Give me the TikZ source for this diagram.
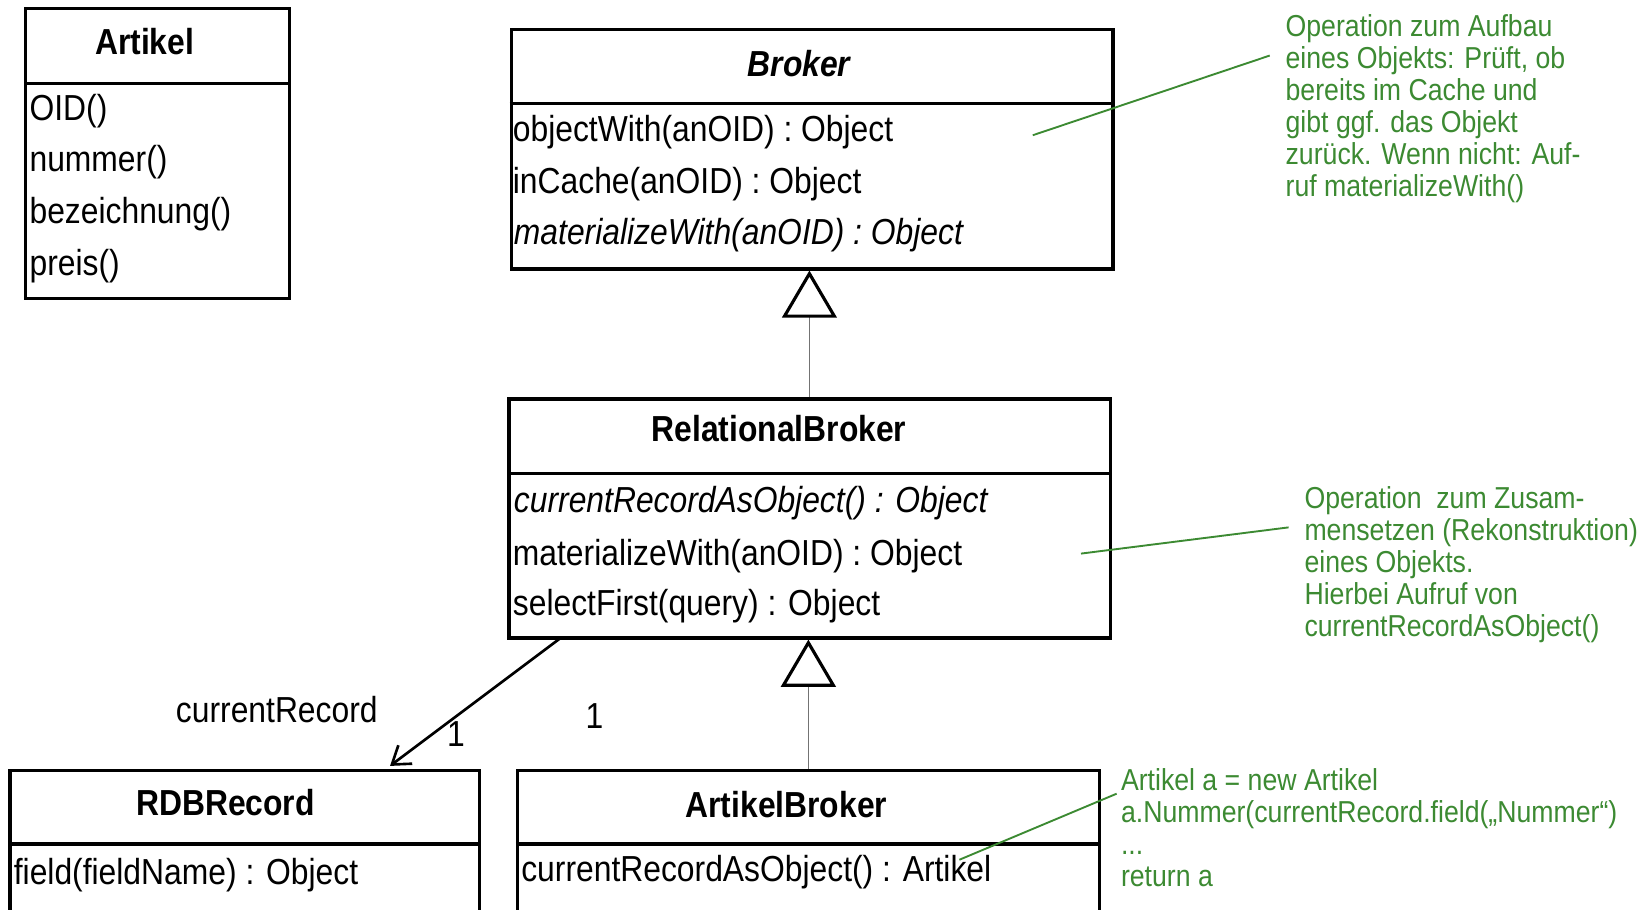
\documentclass[tikz,border=0pt]{standalone}
\usepackage{fontspec}
\setmainfont{Liberation Sans}[FakeStretch=0.88]
\usetikzlibrary{arrows.meta}
\definecolor{notegreen}{RGB}{60,138,50}
\tikzset{
  x=1pt, y=-1pt,
  box/.style={draw=black, line width=3pt, inner sep=0pt, anchor=north west},
  sepline/.style={draw=black, line width=3pt},
  title/.style={anchor=base, inner sep=0pt, font=\fontsize{34.5}{40}\selectfont\bfseries},
  item/.style={anchor=base west, inner sep=0pt, font=\fontsize{34.5}{40}\selectfont},
  gen/.style={draw=black!55, line width=1.2pt,
    -{Triangle[length=45pt,width=52pt,color=black,fill=white,line width=3pt]}},
  assoc/.style={draw=black, line width=2.5pt, line cap=round,
    -{Straight Barb[length=16pt,width=22pt,line width=2.5pt]}},
  note/.style={anchor=north west, inner sep=0pt, align=left, text=notegreen,
    font=\fontsize{28.9}{30.5}\selectfont},
  noteline/.style={draw=notegreen, line width=1.8pt},
}
\begin{document}
\begin{tikzpicture}
\useasboundingbox (0,0) rectangle (1568,867);
\clip (0,0) rectangle (1568,867);

% Artikel
\node[box, minimum width=252pt, minimum height=276pt] (artikel) at (23,7) {};
\draw[sepline] (artikel.west |- 0,80) -- (artikel.east |- 0,80);
\node[title] (artikelT) at (138,52) {Artikel};
\node[item] (artikel1) at (28,115) {OID()};
\node[item] (artikel2) at (28,164) {nummer()};
\node[item] (artikel3) at (28,213) {bezeichnung()};
\node[item] (artikel4) at (28,263) {preis()};

% Broker
\node[box, minimum width=574pt, minimum height=228pt] (broker) at (486,27) {};
\draw[sepline] (broker.west |- 0,99) -- (broker.east |- 0,99);
\node[title] (brokerT) at (762,73) {\itshape Broker};
\node[item] (broker1) at (489,135) {objectWith(anOID) : Object};
\node[item] (broker2) at (489,185) {inCache(anOID) : Object};
\node[item] (broker3) at (490,233) {\itshape materializeWith(anOID) : Object};

% RelationalBroker
\node[box, minimum width=574pt, minimum height=228pt] (rb) at (484,379) {};
\draw[sepline] (rb.west |- 0,452) -- (rb.east |- 0,452);
\node[title] (rbT) at (743,421) {RelationalBroker};
\node[item] (rb1) at (490,489) {\itshape currentRecordAsObject() : Object};
\node[item] (rb2) at (489,539) {materializeWith(anOID) : Object};
\node[item] (rb3) at (489,587) {selectFirst(query) : Object};

% RDBRecord (continues past the lower edge)
\node[box, minimum width=448pt, minimum height=160pt] (rdb) at (8,733) {};
\draw[sepline] (rdb.west |- 0,805) -- (rdb.east |- 0,805);
\node[title] (rdbT) at (215,778) {RDBRecord};
\node[item] (rdb1) at (13,844) {field(fieldName) : Object};

% ArtikelBroker (continues past the lower edge)
\node[box, minimum width=555pt, minimum height=160pt] (ab) at (492,733) {};
\draw[sepline] (ab.west |- 0,805) -- (ab.east |- 0,805);
\node[title] (abT) at (750,780) {ArtikelBroker};
\node[item] (ab1) at (497,841) {currentRecordAsObject() : Artikel};

% generalizations
\draw[gen] (rb.north -| 772,0) -- (broker.south -| 772,0);
\draw[gen] (ab.north -| 771,0) -- (rb.south -| 771,0);

% association currentRecord
\draw[assoc] ([xshift=50pt,yshift=1pt]rb.south west) -- ([xshift=364pt,yshift=2.5pt]rdb.north west);
\node[item, anchor=base] (roleName) at (264,689) {currentRecord};
\node[item, anchor=base] (mult1) at (435,712) {1};
\node[item, anchor=base] (mult2) at (567,695) {1};

% notes
\node[note] (note1) at (1226,14) {Operation zum Aufbau\\eines Objekts: Prüft, ob\\bereits im Cache und\\gibt ggf. das Objekt\\zurück. Wenn nicht: Auf-\\ruf materializeWith()};
\coordinate (n1a) at (985,129);
\coordinate (n1b) at (1211,53);
\draw[noteline] (n1a) -- (n1b);

\node[note] (note2) at (1244,464) {Operation\ \ zum Zusam-\\mensetzen (Rekonstruktion)\\eines Objekts.\\Hierbei Aufruf von\\currentRecordAsObject()};
\coordinate (n2a) at (1031,528);
\coordinate (n2b) at (1229,503);
\draw[noteline] (n2a) -- (n2b);

\node[note] (note3) at (1069,733) {Artikel a = new Artikel\\a.Nummer(currentRecord.field(„Nummer“)\\...\\return a};
\coordinate (n3a) at (915,820);
\coordinate (n3b) at (1065,757);
\draw[noteline] (n3a) -- (n3b);
\end{tikzpicture}
\end{document}
